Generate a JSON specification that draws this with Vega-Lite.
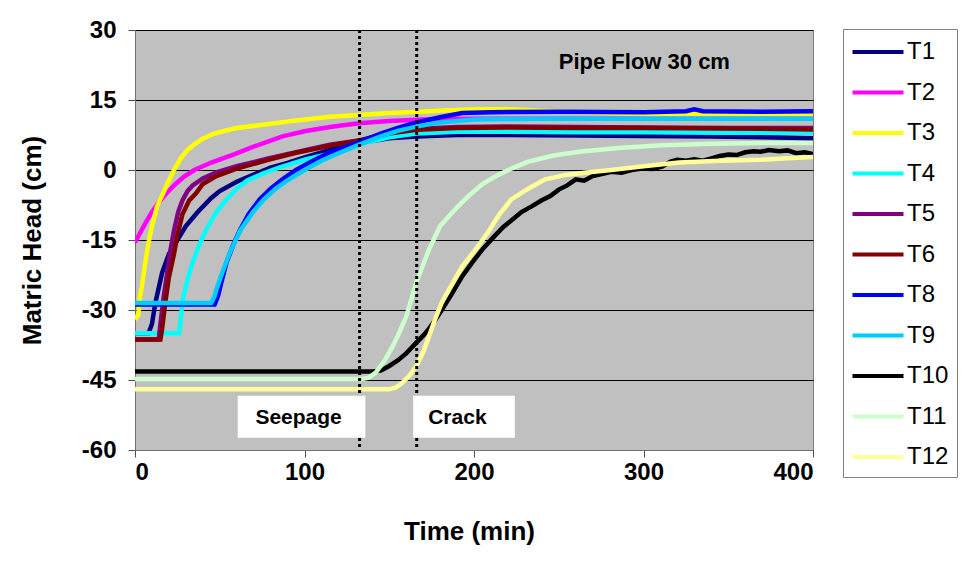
{
  "$schema": "https://vega.github.io/schema/vega-lite/v6.json",
  "width": 678,
  "height": 420,
  "autosize": {"type": "none"},
  "padding": {"left": 135, "top": 30, "right": 158, "bottom": 117},
  "background": "white",
  "config": {
    "view": {"fill": "#C0C0C0", "stroke": "#808080", "strokeWidth": 1},
    "font": "Liberation Sans",
    "axis": {
      "labelFont": "Liberation Sans", "labelFontSize": 24, "labelFontWeight": "bold", "labelColor": "black",
      "titleFont": "Liberation Sans", "titleFontSize": 26, "titleFontWeight": "bold", "titleColor": "black",
      "domainColor": "#707070", "tickColor": "#505050", "tickSize": 7
    }
  },
  "layer": [
    {
      "data": {"values": [
        {"s":"T1","t":0,"h":-35},{"s":"T1","t":8,"h":-35},{"s":"T1","t":10,"h":-33},{"s":"T1","t":12,"h":-28.5},{"s":"T1","t":16,"h":-22},{"s":"T1","t":20,"h":-18},{"s":"T1","t":25,"h":-15},{"s":"T1","t":30,"h":-12},{"s":"T1","t":37,"h":-9},{"s":"T1","t":45,"h":-6},{"s":"T1","t":50,"h":-4.5},{"s":"T1","t":60,"h":-2.5},{"s":"T1","t":70,"h":-1},{"s":"T1","t":80,"h":0.5},{"s":"T1","t":90,"h":1.5},{"s":"T1","t":100,"h":2.7},{"s":"T1","t":115,"h":4.3},{"s":"T1","t":132,"h":5.8},{"s":"T1","t":150,"h":6.8},{"s":"T1","t":166,"h":7.2},{"s":"T1","t":190,"h":7.5},{"s":"T1","t":220,"h":7.5},{"s":"T1","t":260,"h":7.4},{"s":"T1","t":300,"h":7.3},{"s":"T1","t":340,"h":7.2},{"s":"T1","t":370,"h":7.0},{"s":"T1","t":400,"h":6.8},

        {"s":"T2","t":0,"h":-15.5},{"s":"T2","t":3,"h":-13.5},{"s":"T2","t":6,"h":-11.5},{"s":"T2","t":10,"h":-9},{"s":"T2","t":14,"h":-7},{"s":"T2","t":19,"h":-4.8},{"s":"T2","t":24,"h":-3},{"s":"T2","t":29,"h":-1.4},{"s":"T2","t":35,"h":0},{"s":"T2","t":45,"h":1.6},{"s":"T2","t":58,"h":3.3},{"s":"T2","t":70,"h":5},{"s":"T2","t":87,"h":7.2},{"s":"T2","t":100,"h":8.3},{"s":"T2","t":115,"h":9.2},{"s":"T2","t":132,"h":10},{"s":"T2","t":150,"h":10.5},{"s":"T2","t":170,"h":10.8},{"s":"T2","t":200,"h":11},{"s":"T2","t":250,"h":11},{"s":"T2","t":300,"h":11},{"s":"T2","t":350,"h":11},{"s":"T2","t":400,"h":11},

        {"s":"T3","t":0,"h":-32},{"s":"T3","t":2,"h":-31},{"s":"T3","t":3,"h":-27},{"s":"T3","t":4,"h":-25},{"s":"T3","t":6,"h":-20},{"s":"T3","t":8,"h":-15.5},{"s":"T3","t":10,"h":-12},{"s":"T3","t":13,"h":-7.8},{"s":"T3","t":16,"h":-5.5},{"s":"T3","t":19,"h":-3},{"s":"T3","t":23,"h":0},{"s":"T3","t":27,"h":2.5},{"s":"T3","t":31,"h":4.3},{"s":"T3","t":35,"h":5.5},{"s":"T3","t":40,"h":6.7},{"s":"T3","t":46,"h":7.7},{"s":"T3","t":53,"h":8.4},{"s":"T3","t":60,"h":9},{"s":"T3","t":78,"h":9.8},{"s":"T3","t":95,"h":10.6},{"s":"T3","t":115,"h":11.4},{"s":"T3","t":132,"h":11.8},{"s":"T3","t":150,"h":12.2},{"s":"T3","t":168,"h":12.5},{"s":"T3","t":185,"h":12.8},{"s":"T3","t":203,"h":13},{"s":"T3","t":222,"h":13},{"s":"T3","t":250,"h":12.5},{"s":"T3","t":300,"h":12},{"s":"T3","t":350,"h":12},{"s":"T3","t":400,"h":12},

        {"s":"T4","t":0,"h":-35},{"s":"T4","t":26,"h":-35},{"s":"T4","t":27,"h":-32},{"s":"T4","t":28,"h":-28},{"s":"T4","t":31,"h":-23.5},{"s":"T4","t":34,"h":-19.8},{"s":"T4","t":38,"h":-16},{"s":"T4","t":42,"h":-12.8},{"s":"T4","t":48,"h":-9},{"s":"T4","t":54,"h":-6.3},{"s":"T4","t":60,"h":-4},{"s":"T4","t":66,"h":-2.3},{"s":"T4","t":75,"h":-0.8},{"s":"T4","t":85,"h":0.5},{"s":"T4","t":100,"h":2.2},{"s":"T4","t":115,"h":3.5},{"s":"T4","t":132,"h":5.5},{"s":"T4","t":150,"h":7},{"s":"T4","t":166,"h":7.8},{"s":"T4","t":190,"h":8.2},{"s":"T4","t":220,"h":8.2},{"s":"T4","t":260,"h":8.1},{"s":"T4","t":300,"h":8.1},{"s":"T4","t":350,"h":8},{"s":"T4","t":400,"h":8},

        {"s":"T5","t":0,"h":-36.3},{"s":"T5","t":14,"h":-36.3},{"s":"T5","t":15,"h":-33},{"s":"T5","t":17,"h":-27},{"s":"T5","t":19,"h":-22},{"s":"T5","t":21,"h":-17},{"s":"T5","t":23,"h":-13},{"s":"T5","t":25.5,"h":-9},{"s":"T5","t":28,"h":-6.5},{"s":"T5","t":31,"h":-4.5},{"s":"T5","t":34,"h":-3.3},{"s":"T5","t":40,"h":-1.8},{"s":"T5","t":48,"h":-0.5},{"s":"T5","t":60,"h":0.8},{"s":"T5","t":78,"h":2.4},{"s":"T5","t":95,"h":3.8},{"s":"T5","t":115,"h":5.4},{"s":"T5","t":132,"h":6.3},{"s":"T5","t":150,"h":8},{"s":"T5","t":166,"h":8.8},{"s":"T5","t":190,"h":9.2},{"s":"T5","t":220,"h":9.3},{"s":"T5","t":260,"h":9.2},{"s":"T5","t":300,"h":9.1},{"s":"T5","t":350,"h":9},{"s":"T5","t":400,"h":9},

        {"s":"T6","t":0,"h":-36.3},{"s":"T6","t":15,"h":-36.3},{"s":"T6","t":16,"h":-34},{"s":"T6","t":18,"h":-28},{"s":"T6","t":20,"h":-23},{"s":"T6","t":23,"h":-18},{"s":"T6","t":25,"h":-14},{"s":"T6","t":28,"h":-9.5},{"s":"T6","t":32,"h":-6.5},{"s":"T6","t":36,"h":-5},{"s":"T6","t":40,"h":-3},{"s":"T6","t":48,"h":-1.3},{"s":"T6","t":60,"h":0.3},{"s":"T6","t":78,"h":2.1},{"s":"T6","t":95,"h":3.7},{"s":"T6","t":115,"h":5.2},{"s":"T6","t":132,"h":6.3},{"s":"T6","t":150,"h":7.8},{"s":"T6","t":166,"h":8.6},{"s":"T6","t":190,"h":9},{"s":"T6","t":220,"h":9.1},{"s":"T6","t":260,"h":9},{"s":"T6","t":300,"h":9},{"s":"T6","t":350,"h":8.9},{"s":"T6","t":400,"h":8.7},

        {"s":"T8","t":0,"h":-28.8},{"s":"T8","t":47,"h":-28.8},{"s":"T8","t":49,"h":-27},{"s":"T8","t":51,"h":-24},{"s":"T8","t":54,"h":-19.8},{"s":"T8","t":58,"h":-16},{"s":"T8","t":62,"h":-12.8},{"s":"T8","t":67,"h":-9.5},{"s":"T8","t":73.5,"h":-6.3},{"s":"T8","t":80,"h":-4},{"s":"T8","t":87,"h":-2},{"s":"T8","t":95,"h":0},{"s":"T8","t":105,"h":2},{"s":"T8","t":115,"h":3.8},{"s":"T8","t":125,"h":5},{"s":"T8","t":132,"h":6},{"s":"T8","t":145,"h":7.8},{"s":"T8","t":155,"h":9},{"s":"T8","t":166,"h":10.2},{"s":"T8","t":180,"h":11.3},{"s":"T8","t":193,"h":12.2},{"s":"T8","t":210,"h":12.4},{"s":"T8","t":250,"h":12.5},{"s":"T8","t":300,"h":12.4},{"s":"T8","t":325,"h":12.6},{"s":"T8","t":330,"h":13},{"s":"T8","t":335,"h":12.6},{"s":"T8","t":370,"h":12.5},{"s":"T8","t":400,"h":12.6},

        {"s":"T9","t":0,"h":-28.5},{"s":"T9","t":45,"h":-28.5},{"s":"T9","t":47,"h":-27},{"s":"T9","t":48,"h":-25.6},{"s":"T9","t":52,"h":-21.5},{"s":"T9","t":56,"h":-17.7},{"s":"T9","t":62,"h":-13},{"s":"T9","t":69.6,"h":-9},{"s":"T9","t":76,"h":-6.3},{"s":"T9","t":83,"h":-4},{"s":"T9","t":90,"h":-2.2},{"s":"T9","t":100,"h":0},{"s":"T9","t":110,"h":2},{"s":"T9","t":120,"h":3.6},{"s":"T9","t":132,"h":5.4},{"s":"T9","t":145,"h":7.2},{"s":"T9","t":155,"h":8.4},{"s":"T9","t":166,"h":9.3},{"s":"T9","t":180,"h":10.2},{"s":"T9","t":200,"h":10.8},{"s":"T9","t":240,"h":11},{"s":"T9","t":300,"h":11},{"s":"T9","t":350,"h":11},{"s":"T9","t":400,"h":11},

        {"s":"T10","t":0,"h":-43.2},{"s":"T10","t":140,"h":-43.2},{"s":"T10","t":145,"h":-43},{"s":"T10","t":150,"h":-42},{"s":"T10","t":155,"h":-40.8},{"s":"T10","t":160,"h":-39.3},{"s":"T10","t":166,"h":-37},{"s":"T10","t":170,"h":-35.5},{"s":"T10","t":173.5,"h":-34},{"s":"T10","t":177,"h":-32.2},{"s":"T10","t":181,"h":-30},{"s":"T10","t":187,"h":-26.5},{"s":"T10","t":193,"h":-22.8},{"s":"T10","t":199,"h":-19.8},{"s":"T10","t":205,"h":-17},{"s":"T10","t":211,"h":-14.6},{"s":"T10","t":217,"h":-12.3},{"s":"T10","t":222,"h":-10.8},{"s":"T10","t":228,"h":-9},{"s":"T10","t":234,"h":-7.8},{"s":"T10","t":240,"h":-6.5},{"s":"T10","t":245,"h":-5.6},{"s":"T10","t":250,"h":-4.2},{"s":"T10","t":255,"h":-3.3},{"s":"T10","t":260,"h":-2},{"s":"T10","t":265,"h":-2.3},{"s":"T10","t":270,"h":-1.3},{"s":"T10","t":276,"h":-0.8},{"s":"T10","t":281,"h":-0.4},{"s":"T10","t":287,"h":-0.6},{"s":"T10","t":293,"h":0},{"s":"T10","t":299,"h":0.3},{"s":"T10","t":305,"h":0.2},{"s":"T10","t":311,"h":0.7},{"s":"T10","t":316,"h":1.8},{"s":"T10","t":320,"h":2.2},{"s":"T10","t":325,"h":2.0},{"s":"T10","t":330,"h":2.3},{"s":"T10","t":335,"h":2.0},{"s":"T10","t":340,"h":2.5},{"s":"T10","t":345,"h":3.0},{"s":"T10","t":350,"h":3.3},{"s":"T10","t":355,"h":3.2},{"s":"T10","t":360,"h":3.8},{"s":"T10","t":365,"h":4.0},{"s":"T10","t":369,"h":3.9},{"s":"T10","t":374,"h":4.3},{"s":"T10","t":380,"h":4.0},{"s":"T10","t":385,"h":4.2},{"s":"T10","t":390,"h":3.6},{"s":"T10","t":395,"h":3.8},{"s":"T10","t":400,"h":3.4},

        {"s":"T11","t":0,"h":-44.8},{"s":"T11","t":134,"h":-44.8},{"s":"T11","t":138,"h":-44.5},{"s":"T11","t":142,"h":-43.4},{"s":"T11","t":147,"h":-41},{"s":"T11","t":152,"h":-37.8},{"s":"T11","t":156,"h":-34.8},{"s":"T11","t":160,"h":-31.4},{"s":"T11","t":163,"h":-27.8},{"s":"T11","t":166,"h":-24},{"s":"T11","t":170,"h":-20.3},{"s":"T11","t":173.5,"h":-17},{"s":"T11","t":180,"h":-12},{"s":"T11","t":190,"h":-8},{"s":"T11","t":197,"h":-5.5},{"s":"T11","t":205,"h":-3},{"s":"T11","t":213,"h":-1.3},{"s":"T11","t":222,"h":0.3},{"s":"T11","t":232,"h":1.8},{"s":"T11","t":247,"h":3.1},{"s":"T11","t":262,"h":3.9},{"s":"T11","t":285,"h":4.7},{"s":"T11","t":311,"h":5.3},{"s":"T11","t":340,"h":5.6},{"s":"T11","t":370,"h":5.8},{"s":"T11","t":400,"h":5.8},

        {"s":"T12","t":0,"h":-47},{"s":"T12","t":150,"h":-47},{"s":"T12","t":154,"h":-46.6},{"s":"T12","t":158,"h":-45.5},{"s":"T12","t":162,"h":-44},{"s":"T12","t":166,"h":-42},{"s":"T12","t":170,"h":-39},{"s":"T12","t":173.5,"h":-35.6},{"s":"T12","t":177,"h":-32},{"s":"T12","t":181,"h":-28.4},{"s":"T12","t":187,"h":-24.5},{"s":"T12","t":193,"h":-20.7},{"s":"T12","t":201,"h":-17},{"s":"T12","t":208,"h":-13.5},{"s":"T12","t":215,"h":-9.5},{"s":"T12","t":222,"h":-6.3},{"s":"T12","t":232,"h":-4},{"s":"T12","t":242,"h":-2},{"s":"T12","t":255,"h":-1},{"s":"T12","t":268,"h":-0.5},{"s":"T12","t":281,"h":0},{"s":"T12","t":300,"h":0.8},{"s":"T12","t":321,"h":1.6},{"s":"T12","t":345,"h":2},{"s":"T12","t":369,"h":2.2},{"s":"T12","t":385,"h":2.5},{"s":"T12","t":400,"h":2.8}
      ]},
      "mark": {"type": "line", "strokeWidth": 4.5, "clip": true},
      "encoding": {
        "x": {"field": "t", "type": "quantitative", "title": "Time (min)",
              "scale": {"domain": [0, 400], "nice": false, "zero": false},
              "axis": {"values": [0, 100, 200, 300, 400], "grid": false, "labelPadding": 3, "titlePadding": 34, "titleX": 334}},
        "y": {"field": "h", "type": "quantitative", "title": "Matric Head (cm)",
              "scale": {"domain": [-60, 30], "nice": false, "zero": false},
              "axis": {"values": [-60, -45, -30, -15, 0, 15, 30], "labelExpr": "toString(datum.value)", "grid": true, "gridColor": "black", "gridWidth": 1, "gridOpacity": 1, "labelPadding": 12, "titlePadding": 36}},
        "color": {"field": "s", "type": "nominal",
                  "scale": {"domain": ["T1","T2","T3","T4","T5","T6","T8","T9","T10","T11","T12"],
                            "range": ["#000080","#FF00FF","#FFFF00","#00FFFF","#800080","#800000","#0000FF","#00CCFF","#000000","#CCFFCC","#FFFF99"]},
                  "legend": {"orient": "none", "legendX": 708, "legendY": -1, "title": null,
                             "symbolType": "M-2,0H2", "symbolSize": 650, "symbolStrokeWidth": 4, "symbolOffset": 12,
                             "labelFont": "Liberation Sans", "labelFontSize": 24, "labelColor": "black", "labelOffset": 14,
                             "fillColor": "white", "strokeColor": "#808080", "padding": 8, "rowPadding": 13.5}},
        "order": {"field": "t", "type": "quantitative"}
      }
    },
    {
      "data": {"values": [{"t": 132.5}, {"t": 166.2}]},
      "mark": {"type": "rule", "color": "black", "strokeWidth": 3, "strokeDash": [3, 3]},
      "encoding": {"x": {"field": "t", "type": "quantitative", "title": "Time (min)"}}
    },
    {
      "data": {"values": [
        {"t": 60.6, "t2": 135.9, "h": -48.4, "h2": -57.4},
        {"t": 164.1, "t2": 224.1, "h": -48.4, "h2": -57.4}
      ]},
      "mark": {"type": "rect", "color": "white", "opacity": 1},
      "encoding": {
        "x": {"field": "t", "type": "quantitative", "title": "Time (min)"},
        "x2": {"field": "t2"},
        "y": {"field": "h", "type": "quantitative", "title": "Matric Head (cm)"},
        "y2": {"field": "h2"}
      }
    },
    {
      "data": {"values": [
        {"t": 96.5, "h": -53.1, "label": "Seepage", "size": 21},
        {"t": 190.2, "h": -53.1, "label": "Crack", "size": 21},
        {"t": 300.5, "h": 23.2, "label": "Pipe Flow 30 cm", "size": 22}
      ]},
      "mark": {"type": "text", "fontWeight": "bold", "font": "Liberation Sans", "color": "black", "baseline": "middle", "align": "center"},
      "encoding": {
        "x": {"field": "t", "type": "quantitative", "title": "Time (min)"},
        "y": {"field": "h", "type": "quantitative", "title": "Matric Head (cm)"},
        "text": {"field": "label"},
        "size": {"field": "size", "type": "quantitative", "scale": null}
      }
    }
  ]
}
